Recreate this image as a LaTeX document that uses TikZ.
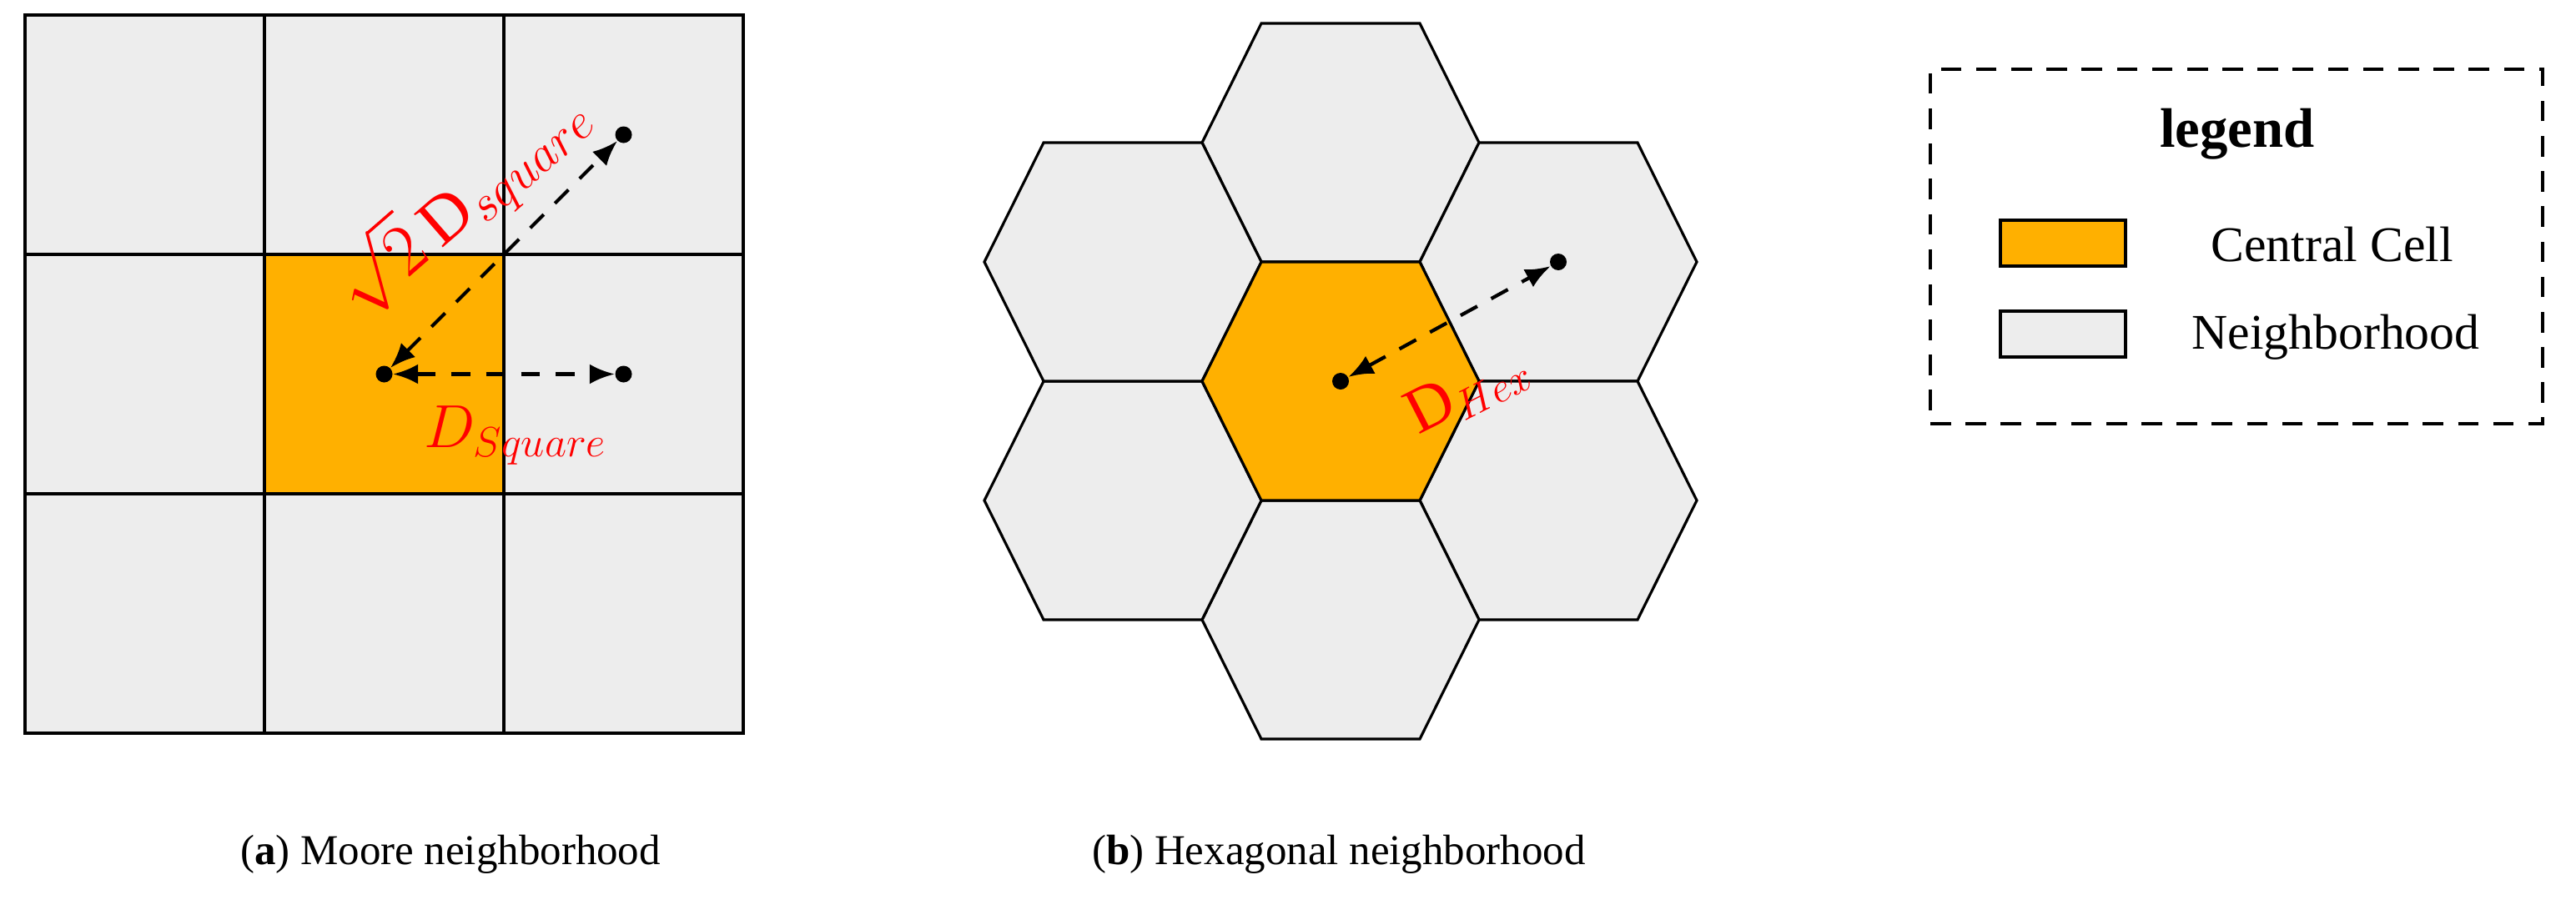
\documentclass[tikz,border=0pt]{standalone}
\usepackage{fontspec}
\setmainfont{Liberation Serif}
\usetikzlibrary{arrows.meta, positioning}
\definecolor{centralorange}{RGB}{255, 176, 0}
\definecolor{neighgray}{RGB}{237, 237, 237}

\begin{document}
\begin{tikzpicture}[
    node distance=0pt,
    cell/.style={rectangle, draw=black, fill=#1, line width=1.1pt,
                 minimum size=2.87cm, inner sep=0pt, outer sep=0pt},
    cell/.default=neighgray,
    hexcell/.style={draw=black, fill=#1, line width=0.9pt},
    hexcell/.default=neighgray,
    dot/.style={circle, fill=black, minimum size=0.2cm, inner sep=0pt},
    distarrow/.style={<->, >={Latex[length=0.3cm, width=0.24cm]},
                      line width=1.2pt, dash pattern=on 6.5pt off 5.4pt},
    dlabel/.style={text=red, font=\fontsize{22}{26}\selectfont},
    swatch/.style={rectangle, draw=black, fill=#1, line width=1.1pt,
                   minimum width=1.5cm, minimum height=0.55cm, inner sep=0pt},
    legtext/.style={anchor=west, font=\fontsize{17}{21}\selectfont},
    caption/.style={font=\fontsize{14.5}{17}\selectfont}
]
    \useasboundingbox (0,0) rectangle (30.88,10.84);

    % Moore neighborhood
    \node[cell=centralorange] (sq-c) at (4.605, 6.355) {};
    \node[cell] (sq-n) [above=of sq-c] {};
    \node[cell] (sq-s) [below=of sq-c] {};
    \node[cell] (sq-w) [left=of sq-c] {};
    \node[cell] (sq-e) [right=of sq-c] {};
    \node[cell] (sq-nw) [left=of sq-n] {};
    \node[cell] (sq-ne) [right=of sq-n] {};
    \node[cell] (sq-sw) [left=of sq-s] {};
    \node[cell] (sq-se) [right=of sq-s] {};
    \draw[line width=1.1pt] (sq-c.north west) rectangle (sq-c.south east);

    \node[dot] (sqdot-c) at (sq-c) {};
    \node[dot] (sqdot-e) at (sq-e) {};
    \node[dot] (sqdot-ne) at (sq-ne) {};
    \draw[distarrow] (sqdot-c) -- (sqdot-e);
    \draw[distarrow] (sqdot-c) -- (sqdot-ne);
    \node[dlabel] (dsquare) at (6.18, 5.62) {$D_{Square}$};
    \node[dlabel, rotate=41, font=\fontsize{23}{27}\selectfont]
        (dsqrt) at (5.54, 8.42) {$\sqrt{2}\,\mathrm{D}_{square}$};

    % Hexagonal neighborhood
    \foreach \dx/\dy in {0/2.86, 2.61/1.43, 2.61/-1.43, 0/-2.86, -2.61/-1.43, -2.61/1.43}
        \draw[hexcell, shift={(16.07+\dx, 6.27+\dy)}]
            (-1.66,0) -- (-0.95,1.43) -- (0.95,1.43) -- (1.66,0)
            -- (0.95,-1.43) -- (-0.95,-1.43) -- cycle;
    \draw[hexcell=centralorange, shift={(16.07, 6.27)}]
        (-1.66,0) -- (-0.95,1.43) -- (0.95,1.43) -- (1.66,0)
        -- (0.95,-1.43) -- (-0.95,-1.43) -- cycle;

    \node[dot] (hexdot-c) at (16.07, 6.27) {};
    \node[dot] (hexdot-ne) at (18.68, 7.70) {};
    \draw[distarrow] (hexdot-c) -- (hexdot-ne);
    \node[dlabel, rotate=27] (dhex) at (17.60, 6.15) {$\mathrm{D}_{Hex}$};

    % Legend
    \node[rectangle, draw=black, line width=1.1pt, dash pattern=on 7pt off 5pt,
          minimum width=7.34cm, minimum height=4.25cm] (legend) at (26.81, 7.885) {};
    \node[font=\bfseries\fontsize{19}{23}\selectfont] (legtitle) at (26.82, 9.23) {legend};
    \node[swatch=centralorange] (sw-central) at (24.73, 7.925) {};
    \node[swatch=neighgray] (sw-neigh) at (24.73, 6.835) {};
    \node[legtext] (lab-central) at (26.38, 7.91) {Central Cell};
    \node[legtext] (lab-neigh) at (26.15, 6.80) {Neighborhood};

    % Captions
    \node[caption] (cap-a) at (5.40, 0.60) {(\textbf{a}) Moore neighborhood};
    \node[caption] (cap-b) at (16.05, 0.60) {(\textbf{b}) Hexagonal neighborhood};
\end{tikzpicture}
\end{document}
